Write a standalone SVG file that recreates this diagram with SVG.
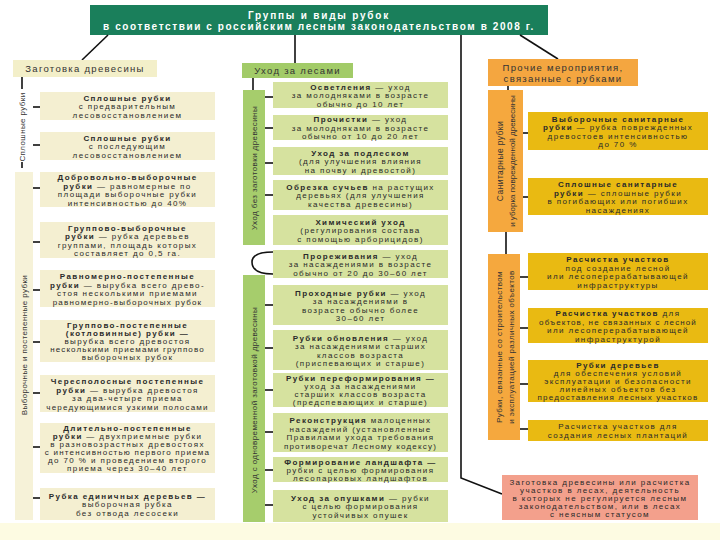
<svg xmlns="http://www.w3.org/2000/svg" width="720" height="540" viewBox="0 0 720 540">
<style>
.t{font-family:"Liberation Sans",Arial,sans-serif;font-size:8px;letter-spacing:1.4px;text-anchor:middle;fill:#2a2a2a}
.b{font-weight:bold}
.h{font-family:"Liberation Sans",Arial,sans-serif;font-size:9.5px;letter-spacing:1.3px;text-anchor:middle;fill:#333}
.v{font-family:"Liberation Sans",Arial,sans-serif;font-size:8px;letter-spacing:0.4px;text-anchor:middle;fill:#333}
.lb{fill:#f4efd1}
.mb{fill:#d6e29f}
.rb{fill:#e9ba12}
.ln{stroke:#111;stroke-width:1.6;fill:none}
.hd{font-family:"Liberation Sans",Arial,sans-serif;font-size:10px;font-weight:bold;text-anchor:middle;fill:#fff}
</style>
<rect x="0" y="0" width="720" height="540" fill="#ffffff"/>
<rect x="0" y="523" width="720" height="17" fill="#fdfbe2"/>

<g id="header">
<rect x="90" y="5" width="458" height="30" fill="#1a7f5b"/>
<text class="hd" x="319" y="19" style="letter-spacing:1.8px">Группы и виды рубок</text>
<text class="hd" x="319" y="30" style="letter-spacing:1.6px">в соответствии с российским лесным законодательством в 2008 г.</text>
</g>

<g id="connectors">
<line class="ln" x1="108" y1="35" x2="82" y2="60"/>
<line class="ln" x1="295" y1="35" x2="295" y2="63"/>
<polyline class="ln" points="461,35 461,478 502,494"/>
<line class="ln" x1="520" y1="35" x2="558" y2="59"/>
<line class="ln" x1="22" y1="77" x2="22" y2="89"/>
<line class="ln" x1="22" y1="162" x2="22" y2="168"/>
<g class="ln" stroke-width="1.3">
<line x1="33" y1="107" x2="40" y2="107"/>
<line x1="33" y1="145" x2="40" y2="145"/>
<line x1="33" y1="188" x2="40" y2="188"/>
<line x1="33" y1="242" x2="40" y2="242"/>
<line x1="33" y1="290" x2="40" y2="290"/>
<line x1="33" y1="342" x2="40" y2="342"/>
<line x1="33" y1="393" x2="40" y2="393"/>
<line x1="33" y1="447" x2="40" y2="447"/>
<line x1="33" y1="498" x2="40" y2="498"/>
<line x1="253" y1="77" x2="253" y2="90"/>
<line x1="265" y1="97" x2="273" y2="97"/>
<line x1="265" y1="128" x2="273" y2="128"/>
<line x1="265" y1="163" x2="273" y2="163"/>
<line x1="265" y1="195" x2="273" y2="195"/>
<line x1="265" y1="305" x2="273" y2="305"/>
<line x1="265" y1="348" x2="273" y2="348"/>
<line x1="265" y1="390" x2="273" y2="390"/>
<line x1="265" y1="432" x2="273" y2="432"/>
<line x1="265" y1="470" x2="273" y2="470"/>
<line x1="265" y1="505" x2="273" y2="505"/>
<line x1="508" y1="86" x2="508" y2="90"/>
<line x1="523" y1="133" x2="528" y2="133"/>
<line x1="523" y1="197" x2="528" y2="197"/>
<line x1="506" y1="232" x2="506" y2="254"/>
<line x1="520" y1="277" x2="528" y2="277"/>
<line x1="520" y1="328" x2="528" y2="328"/>
<line x1="520" y1="384" x2="528" y2="384"/>
<line x1="520" y1="429" x2="528" y2="429"/>
</g>
<path class="ln" d="M273,252 Q252,252 252,262 Q252,274 273,274"/>
</g>

<g id="left-heading">
<rect x="13" y="60" width="144" height="17" fill="#f3efc9"/>
<text class="h" x="85" y="72">Заготовка древесины</text>
</g>
<g id="left-bar-1">
<text class="v" transform="translate(25,127) rotate(-90)">Сплошные рубки</text>
</g>
<g id="left-bar-2">
<rect x="15" y="172" width="18" height="348" fill="#f6f2d8"/>
<text class="v" transform="translate(27,345) rotate(-90)">Выборочные и постепенные рубки</text>
</g>

<g id="l1"><rect class="lb" x="40" y="92" width="175" height="28"/>
<text class="t"><tspan x="127.5" y="100.5" class="b">Сплошные рубки</tspan><tspan x="127.5" y="109">с предварительным</tspan><tspan x="127.5" y="117.5">лесовосстановлением</tspan></text></g>
<g id="l2"><rect class="lb" x="40" y="132" width="175" height="28"/>
<text class="t"><tspan x="127.5" y="140.5" class="b">Сплошные рубки</tspan><tspan x="127.5" y="149">с последующим</tspan><tspan x="127.5" y="157.5">лесовосстановлением</tspan></text></g>
<g id="l3"><rect class="lb" x="40" y="172" width="175" height="35"/>
<text class="t"><tspan x="127.5" y="180" class="b">Добровольно-выборочные</tspan><tspan x="127.5" y="188.5"><tspan class="b">рубки</tspan> — равномерные по</tspan><tspan x="127.5" y="197">площади выборочные рубки</tspan><tspan x="127.5" y="205.5">интенсивностью до 40%</tspan></text></g>
<g id="l4"><rect class="lb" x="40" y="222" width="175" height="36"/>
<text class="t"><tspan x="127.5" y="230.5" class="b">Группово-выборочные</tspan><tspan x="127.5" y="239"><tspan class="b">рубки</tspan> — рубка деревьев</tspan><tspan x="127.5" y="247.5">группами, площадь которых</tspan><tspan x="127.5" y="256">составляет до 0,5 га.</tspan></text></g>
<g id="l5"><rect class="lb" x="40" y="270" width="175" height="37"/>
<text class="t"><tspan x="127.5" y="279" class="b">Равномерно-постепенные</tspan><tspan x="127.5" y="287.5"><tspan class="b">рубки</tspan> — вырубка всего древо-</tspan><tspan x="127.5" y="296">стоя несколькими приемами</tspan><tspan x="127.5" y="304.5" style="letter-spacing:1.2px">равномерно-выборочных рубок</tspan></text></g>
<g id="l6"><rect class="lb" x="40" y="320" width="175" height="42"/>
<text class="t"><tspan x="127.5" y="328" class="b">Группово-постепенные</tspan><tspan x="127.5" y="336" class="b">(котловинные) рубки —</tspan><tspan x="127.5" y="344">вырубка всего древостоя</tspan><tspan x="127.5" y="352" style="letter-spacing:1.1px">несколькими приемами группово</tspan><tspan x="127.5" y="360">выборочных рубок</tspan></text></g>
<g id="l7"><rect class="lb" x="40" y="375" width="175" height="37"/>
<text class="t"><tspan x="127.5" y="384" class="b">Чересполосные постепенные</tspan><tspan x="127.5" y="392.5"><tspan class="b">рубки</tspan> — вырубка древостоя</tspan><tspan x="127.5" y="401">за два-четыре приема</tspan><tspan x="127.5" y="409.5" style="letter-spacing:1.2px">чередующимися узкими полосами</tspan></text></g>
<g id="l8"><rect class="lb" x="40" y="423" width="175" height="50"/>
<text class="t"><tspan x="127.5" y="431" class="b">Длительно-постепенные</tspan><tspan x="127.5" y="439"><tspan class="b">рубки</tspan> — двухприемные рубки</tspan><tspan x="127.5" y="447">в разновозрастных древостоях</tspan><tspan x="127.5" y="455" style="letter-spacing:1.2px">с интенсивностью первого приема</tspan><tspan x="127.5" y="463">до 70 % и проведением второго</tspan><tspan x="127.5" y="471">приема через 30–40 лет</tspan></text></g>
<g id="l9"><rect class="lb" x="40" y="488" width="175" height="32"/>
<text class="t"><tspan x="127.5" y="498.5" class="b">Рубка единичных деревьев —</tspan><tspan x="127.5" y="507">выборочная рубка</tspan><tspan x="127.5" y="515.5">без отвода лесосеки</tspan></text></g>

<g id="middle-heading">
<rect x="242" y="63" width="111" height="15" fill="#a2cb68"/>
<text class="h" x="297.5" y="74">Уход за лесами</text>
</g>
<g id="middle-bar-1">
<rect x="243" y="90" width="22" height="155" fill="#a6cd6c"/>
<text class="v" transform="translate(257,168) rotate(-90)">Уход без заготовки древесины</text>
</g>
<g id="middle-bar-2">
<rect x="243" y="275" width="22" height="247" fill="#a6cd6c"/>
<text class="v" transform="translate(257,400) rotate(-90)">Уход с одновременной заготовкой древесины</text>
</g>

<g id="m1"><rect class="mb" x="273" y="82" width="175" height="26"/>
<text class="t"><tspan x="360.5" y="89.5"><tspan class="b">Осветления</tspan> — уход</tspan><tspan x="360.5" y="98">за молодняками в возрасте</tspan><tspan x="360.5" y="106.5">обычно до 10 лет</tspan></text></g>
<g id="m2"><rect class="mb" x="273" y="115" width="175" height="25"/>
<text class="t"><tspan x="360.5" y="122"><tspan class="b">Прочистки</tspan> — уход</tspan><tspan x="360.5" y="130.5">за молодняками в возрасте</tspan><tspan x="360.5" y="139">обычно от 10 до 20 лет</tspan></text></g>
<g id="m3"><rect class="mb" x="273" y="147" width="175" height="28"/>
<text class="t"><tspan x="360.5" y="155.5" class="b">Уход за подлеском</tspan><tspan x="360.5" y="164">(для улучшения влияния</tspan><tspan x="360.5" y="172.5">на почву и древостой)</tspan></text></g>
<g id="m4"><rect class="mb" x="273" y="180" width="175" height="30"/>
<text class="t"><tspan x="360.5" y="189.5"><tspan class="b">Обрезка сучьев</tspan> на растущих</tspan><tspan x="360.5" y="198">деревьях (для улучшения</tspan><tspan x="360.5" y="206.5">качества древесины)</tspan></text></g>
<g id="m5"><rect class="mb" x="273" y="215" width="175" height="30"/>
<text class="t"><tspan x="360.5" y="224.5" class="b">Химический уход</tspan><tspan x="360.5" y="233">(регулирования состава</tspan><tspan x="360.5" y="241.5">с помощью арборицидов)</tspan></text></g>
<g id="m6"><rect class="mb" x="273" y="250" width="175" height="28"/>
<text class="t"><tspan x="360.5" y="258.5"><tspan class="b">Прореживания</tspan> — уход</tspan><tspan x="360.5" y="267">за насаждениями в возрасте</tspan><tspan x="360.5" y="275.5">обычно от 20 до 30–60 лет</tspan></text></g>
<g id="m7"><rect class="mb" x="273" y="285" width="175" height="40"/>
<text class="t"><tspan x="360.5" y="295.5"><tspan class="b">Проходные рубки</tspan> — уход</tspan><tspan x="360.5" y="304">за насаждениями в</tspan><tspan x="360.5" y="312.5">возрасте обычно более</tspan><tspan x="360.5" y="321">30–60 лет</tspan></text></g>
<g id="m8"><rect class="mb" x="273" y="330" width="175" height="40"/>
<text class="t"><tspan x="360.5" y="340.5"><tspan class="b">Рубки обновления</tspan> — уход</tspan><tspan x="360.5" y="349">за насаждениями старших</tspan><tspan x="360.5" y="357.5">классов возраста</tspan><tspan x="360.5" y="366">(приспевающих и старше)</tspan></text></g>
<g id="m9"><rect class="mb" x="273" y="373" width="175" height="34"/>
<text class="t"><tspan x="360.5" y="381" class="b">Рубки переформирования —</tspan><tspan x="360.5" y="389">уход за насаждениями</tspan><tspan x="360.5" y="397">старших классов возраста</tspan><tspan x="360.5" y="405">(предспевающих и старше)</tspan></text></g>
<g id="m10"><rect class="mb" x="273" y="413" width="175" height="39"/>
<text class="t"><tspan x="360.5" y="423"><tspan class="b">Реконструкция</tspan> малоценных</tspan><tspan x="360.5" y="431.5">насаждений (установленные</tspan><tspan x="360.5" y="440">Правилами ухода требования</tspan><tspan x="360.5" y="448.5" style="letter-spacing:1.2px">противоречат Лесному кодексу)</tspan></text></g>
<g id="m11"><rect class="mb" x="273" y="457" width="175" height="25"/>
<text class="t"><tspan x="360.5" y="464.5" class="b">Формирование ландшафта —</tspan><tspan x="360.5" y="472.5">рубки с целью формирования</tspan><tspan x="360.5" y="480.5">лесопарковых ландшафтов</tspan></text></g>
<g id="m12"><rect class="mb" x="273" y="490" width="175" height="32"/>
<text class="t"><tspan x="360.5" y="500.5"><tspan class="b">Уход за опушками</tspan> — рубки</tspan><tspan x="360.5" y="509">с целью формирования</tspan><tspan x="360.5" y="517.5">устойчивых опушек</tspan></text></g>

<g id="right-heading">
<rect x="488" y="59" width="150" height="27" fill="#f4a640"/>
<text class="h" x="563" y="71">Прочие мероприятия,</text>
<text class="h" x="563" y="82">связанные с рубками</text>
</g>
<g id="right-bar-1">
<rect x="488" y="90" width="35" height="142" fill="#f5a83e"/>
<text class="v" transform="translate(503,161) rotate(-90)" style="font-size:8.5px">Санитарные рубки</text>
<text class="v" transform="translate(515,161) rotate(-90)" style="letter-spacing:0">и уборка поврежденной древесины</text>
</g>
<g id="right-bar-2">
<rect x="488" y="254" width="32" height="186" fill="#f5a83e"/>
<text class="v" transform="translate(502,347) rotate(-90)">Рубки, связанные со строительством</text>
<text class="v" transform="translate(514,347) rotate(-90)">и эксплуатацией различных объектов</text>
</g>

<g id="r1"><rect class="rb" x="528" y="112" width="180" height="38"/>
<text class="t"><tspan x="618" y="121.5" class="b">Выборочные санитарные</tspan><tspan x="618" y="130"><tspan class="b">рубки</tspan> — рубка поврежденных</tspan><tspan x="618" y="138.5">древостоев интенсивностью</tspan><tspan x="618" y="147">до 70 %</tspan></text></g>
<g id="r2"><rect class="rb" x="528" y="178" width="180" height="37"/>
<text class="t"><tspan x="618" y="187" class="b">Сплошные санитарные</tspan><tspan x="618" y="195.5"><tspan class="b">рубки</tspan> — сплошные рубки</tspan><tspan x="618" y="204">в погибающих или погибших</tspan><tspan x="618" y="212.5">насаждениях</tspan></text></g>
<g id="r3"><rect class="rb" x="528" y="253" width="180" height="37"/>
<text class="t"><tspan x="618" y="262" class="b">Расчистка участков</tspan><tspan x="618" y="270.5">под создание лесной</tspan><tspan x="618" y="279">или лесоперерабатывающей</tspan><tspan x="618" y="287.5">инфраструктуры</tspan></text></g>
<g id="r4"><rect class="rb" x="528" y="308" width="180" height="35"/>
<text class="t"><tspan x="618" y="316"><tspan class="b">Расчистка участков</tspan> для</tspan><tspan x="618" y="324.5" style="letter-spacing:1.1px">объектов, не связанных с лесной</tspan><tspan x="618" y="333">или лесоперерабатывающей</tspan><tspan x="618" y="341.5">инфраструктурой</tspan></text></g>
<g id="r5"><rect class="rb" x="528" y="360" width="180" height="42"/>
<text class="t"><tspan x="618" y="368" class="b">Рубки деревьев</tspan><tspan x="618" y="376">для обеспечения условий</tspan><tspan x="618" y="384">эксплуатации и безопасности</tspan><tspan x="618" y="392">линейных объектов без</tspan><tspan x="618" y="400" style="letter-spacing:1.2px">предоставления лесных участков</tspan></text></g>
<g id="r6"><rect class="rb" x="528" y="420" width="180" height="21"/>
<text class="t"><tspan x="618" y="429.3">Расчистка участков для</tspan><tspan x="618" y="437.8">создания лесных плантаций</tspan></text></g>

<g id="pink"><rect x="502" y="475" width="196" height="45" fill="#f3a08c"/>
<text class="t"><tspan x="600" y="484.5">Заготовка древесины или расчистка</tspan><tspan x="600" y="492.5">участков в лесах, деятельность</tspan><tspan x="600" y="500.5">в которых не регулируется лесным</tspan><tspan x="600" y="508.5">законодательством, или в лесах</tspan><tspan x="600" y="516.5">с неясным статусом</tspan></text></g>
</svg>
